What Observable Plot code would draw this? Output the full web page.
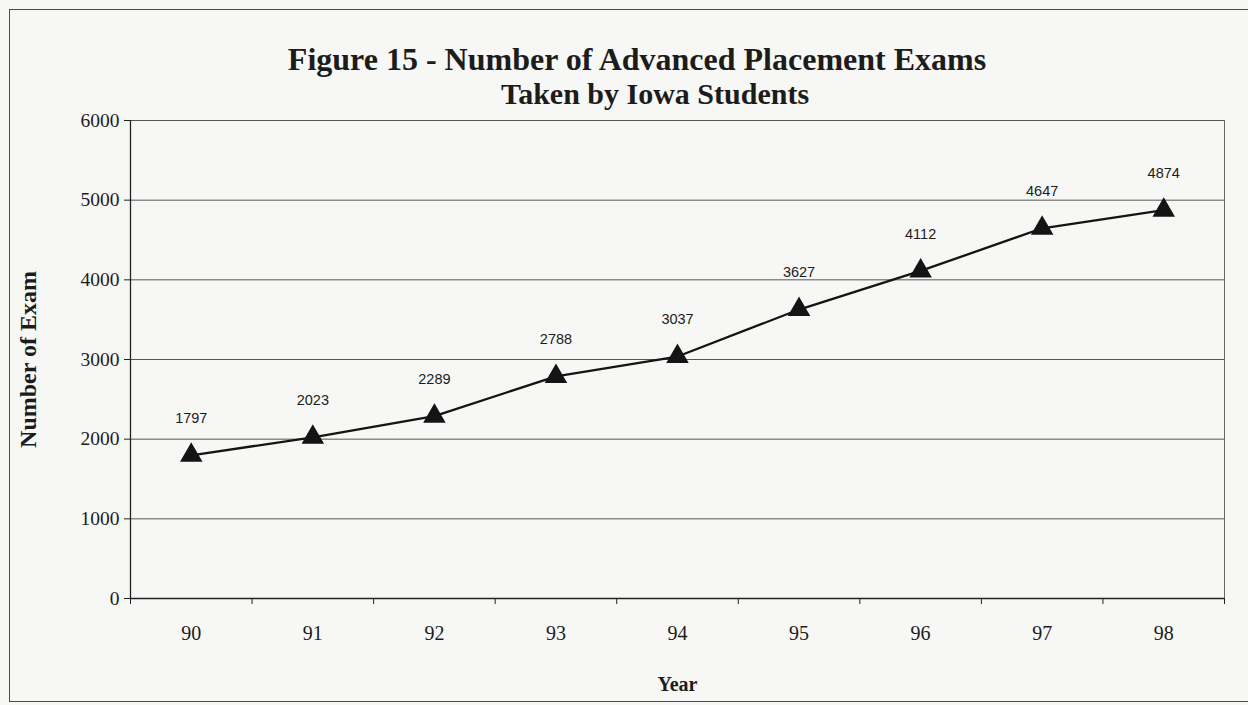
<!DOCTYPE html>
<html>
<head>
<meta charset="utf-8">
<script src="https://cdn.jsdelivr.net/npm/d3@7"></script>
<script src="https://cdn.jsdelivr.net/npm/@observablehq/plot@0.6"></script>
<style>
  html, body { margin: 0; padding: 0; background: #f7f7f5; }
  #wrap { position: relative; width: 1248px; height: 705px; overflow: hidden; background: #f7f7f5; }
  #border { position: absolute; left: 9px; top: 9px; width: 1260px; height: 693px; border: 1.5px solid #4a4a4a; box-sizing: border-box; }
  .title { position: absolute; font-family: "Liberation Serif", "Times New Roman", serif; font-weight: bold; font-size: 32px; color: #1c1c1c; white-space: nowrap; transform: translateX(-50%); line-height: 1; }
  #chart { position: absolute; left: 0; top: 0; }
</style>
</head>
<body>
<div id="wrap">
  <div id="border"></div>
  <div id="chart"></div>
  <div class="title" id="t1" style="left:637px; top:43px;"></div>
  <div class="title" id="t2" style="left:655px; top:79px; font-size:30px;"></div>
</div>
<script>
const titleLines = ["Figure 15 - Number of Advanced Placement Exams", "Taken by Iowa Students"];
const years = [90, 91, 92, 93, 94, 95, 96, 97, 98];
const exams = [1797, 2023, 2289, 2788, 3037, 3627, 4112, 4647, 4874];
const yTicks = [0, 1000, 2000, 3000, 4000, 5000, 6000];
const xLabel = "Year";
const yLabel = "Number of Exam";

document.getElementById("t1").textContent = titleLines[0];
document.getElementById("t2").textContent = titleLines[1];

const data = years.map((y, i) => ({year: y, value: exams[i]}));
const bandEdges = d3.range(years.length + 1).map(i => years[0] - 0.5 + i);

const serif = "'Liberation Serif', 'Times New Roman', serif";
const sans = "'Liberation Sans', Arial, sans-serif";

const chart = Plot.plot({
  width: 1248,
  height: 705,
  marginLeft: 130,
  marginRight: 24,
  marginTop: 120,
  marginBottom: 107,
  style: {background: "transparent", fontFamily: serif, color: "#1c1c1c", overflow: "visible"},
  x: {type: "linear", domain: [years[0] - 0.5, years[years.length - 1] + 0.5]},
  y: {domain: [0, 6000]},
  marks: [
    Plot.gridY(yTicks, {stroke: "#555", strokeOpacity: 1, strokeWidth: 1}),
    Plot.ruleX([years[years.length - 1] + 0.5], {stroke: "#666", strokeWidth: 1}),
    Plot.axisY(yTicks, {tickSize: 6, tickPadding: 5, fontSize: 19.5, fontFamily: serif, stroke: "#222", label: null, tickFormat: d => String(d)}),
    Plot.ruleX([years[0] - 0.5], {stroke: "#222", strokeWidth: 1.3}),
    Plot.ruleY([0], {stroke: "#222", strokeWidth: 1.3}),
    Plot.axisX(bandEdges, {tickSize: 6, tickFormat: () => "", stroke: "#222", label: null}),
    Plot.axisX(years, {tickSize: 0, tickPadding: 27, fontSize: 20, fontFamily: serif, label: null, tickFormat: d => String(d)}),
    Plot.line(data, {x: "year", y: "value", stroke: "#141414", strokeWidth: 2.3}),
    Plot.dot(data, {x: "year", y: "value", symbol: "triangle", r: 7.4, fill: "#141414", stroke: "#141414"}),
    Plot.text(data, {x: "year", y: "value", text: d => String(d.value), dy: -37, fontSize: 14.5, fontFamily: sans, fill: "#1c1c1c"}),
    Plot.text([xLabel], {frameAnchor: "bottom", dy: 92, fontSize: 20, fontWeight: "bold", fontFamily: serif, fill: "#1c1c1c"}),
    Plot.text([yLabel], {frameAnchor: "left", textAnchor: "middle", dx: -102, rotate: -90, fontSize: 24, fontWeight: "bold", fontFamily: serif, fill: "#1c1c1c"})
  ]
});
document.getElementById("chart").appendChild(chart);
</script>
</body>
</html>
